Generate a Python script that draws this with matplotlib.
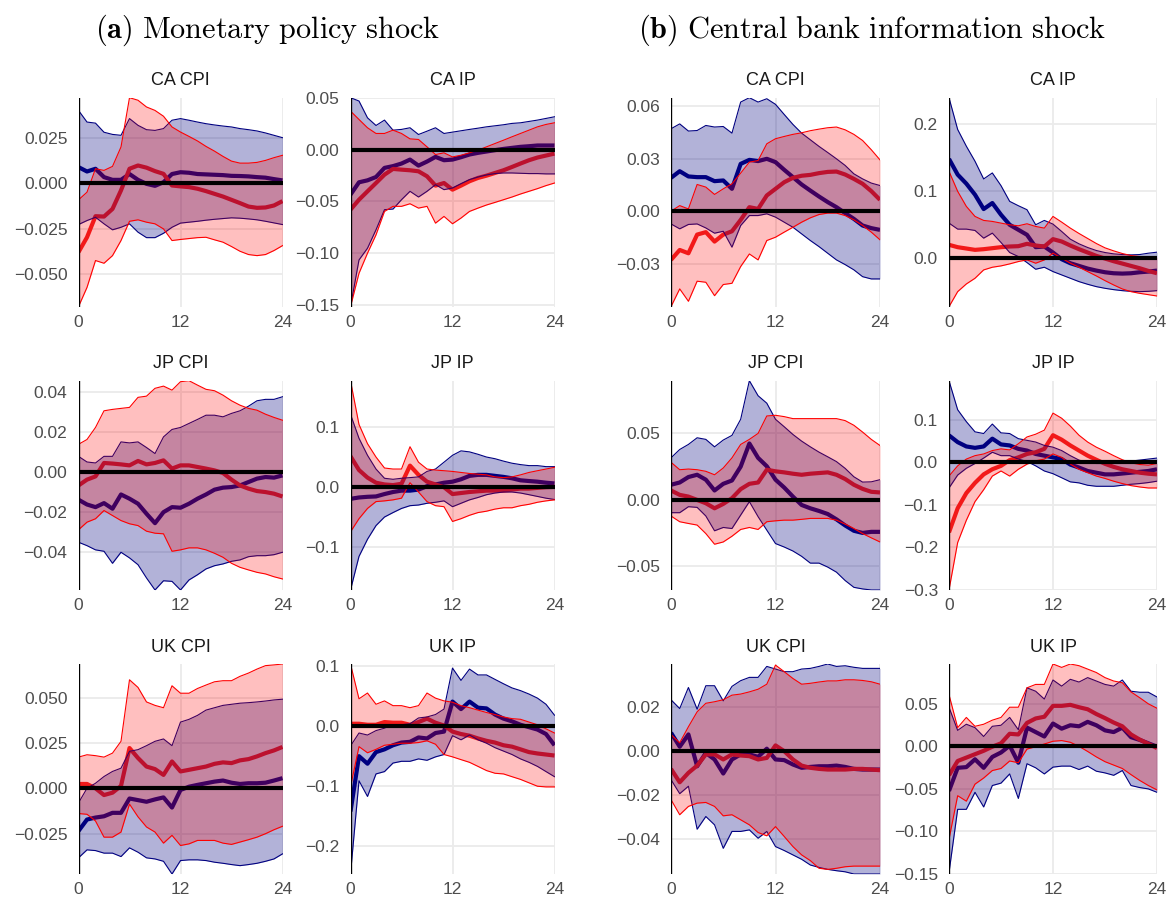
import matplotlib
matplotlib.use("Agg")
import matplotlib.pyplot as plt
from matplotlib.ticker import FuncFormatter
import numpy as np

plt.rcParams["font.family"] = ["Liberation Sans", "DejaVu Sans"]
plt.rcParams["mathtext.fontset"] = "cm"

horizon = np.arange(25)

# ---- (a) monetary policy shock ----
mp_ca_cpi_blue_mid = [0.0088, 0.0064, 0.0079, 0.0033, 0.0018, 0.0018, 0.0050, 0.0018, -0.0004, -0.0015, 0.0005, 0.0050, 0.0060, 0.0057, 0.0050, 0.0048, 0.0046, 0.0044, 0.0040, 0.0039, 0.0037, 0.0033, 0.0030, 0.0022, 0.0015]
mp_ca_cpi_blue_hi = [0.0400, 0.0336, 0.0330, 0.0280, 0.0268, 0.0263, 0.0355, 0.0318, 0.0294, 0.0290, 0.0300, 0.0346, 0.0355, 0.0346, 0.0336, 0.0327, 0.0320, 0.0314, 0.0309, 0.0300, 0.0294, 0.0287, 0.0276, 0.0263, 0.0250]
mp_ca_cpi_blue_lo = [-0.0228, -0.0206, -0.0188, -0.0224, -0.0257, -0.0243, -0.0224, -0.0270, -0.0300, -0.0300, -0.0276, -0.0243, -0.0220, -0.0215, -0.0210, -0.0204, -0.0199, -0.0195, -0.0191, -0.0193, -0.0197, -0.0202, -0.0210, -0.0219, -0.0228]
mp_ca_cpi_red_mid = [-0.0380, -0.0298, -0.0182, -0.0184, -0.0142, -0.0040, 0.0079, 0.0097, 0.0085, 0.0066, 0.0051, -0.0013, -0.0018, -0.0022, -0.0031, -0.0044, -0.0059, -0.0074, -0.0092, -0.0110, -0.0129, -0.0136, -0.0134, -0.0123, -0.0099]
mp_ca_cpi_red_hi = [-0.0092, -0.0050, 0.0079, 0.0070, 0.0092, 0.0199, 0.0470, 0.0456, 0.0419, 0.0400, 0.0368, 0.0309, 0.0281, 0.0257, 0.0232, 0.0202, 0.0176, 0.0147, 0.0121, 0.0110, 0.0110, 0.0114, 0.0125, 0.0140, 0.0153]
mp_ca_cpi_red_lo = [-0.0680, -0.0574, -0.0426, -0.0441, -0.0399, -0.0316, -0.0210, -0.0202, -0.0215, -0.0224, -0.0252, -0.0316, -0.0310, -0.0305, -0.0300, -0.0298, -0.0312, -0.0325, -0.0349, -0.0375, -0.0393, -0.0399, -0.0393, -0.0371, -0.0344]

mp_ca_ip_blue_mid = [-0.0435, -0.0316, -0.0297, -0.0265, -0.0177, -0.0160, -0.0135, -0.0097, -0.0155, -0.0116, -0.0071, -0.0103, -0.0097, -0.0074, -0.0048, -0.0032, -0.0019, -0.0006, 0.0006, 0.0016, 0.0026, 0.0032, 0.0039, 0.0039, 0.0039]
mp_ca_ip_blue_hi = [0.0500, 0.0468, 0.0306, 0.0232, 0.0284, 0.0187, 0.0194, 0.0210, 0.0145, 0.0177, 0.0210, 0.0155, 0.0168, 0.0181, 0.0194, 0.0206, 0.0219, 0.0229, 0.0239, 0.0252, 0.0258, 0.0271, 0.0284, 0.0300, 0.0316]
mp_ca_ip_blue_lo = [-0.1516, -0.1065, -0.0952, -0.0774, -0.0580, -0.0574, -0.0484, -0.0403, -0.0458, -0.0403, -0.0339, -0.0387, -0.0371, -0.0329, -0.0290, -0.0265, -0.0245, -0.0232, -0.0226, -0.0226, -0.0229, -0.0232, -0.0232, -0.0235, -0.0235]
mp_ca_ip_red_mid = [-0.0580, -0.0484, -0.0403, -0.0323, -0.0242, -0.0187, -0.0194, -0.0200, -0.0210, -0.0258, -0.0348, -0.0323, -0.0387, -0.0348, -0.0306, -0.0274, -0.0252, -0.0226, -0.0200, -0.0168, -0.0135, -0.0103, -0.0077, -0.0058, -0.0039]
mp_ca_ip_red_hi = [0.0371, 0.0290, 0.0210, 0.0155, 0.0155, 0.0187, 0.0155, 0.0103, 0.0097, 0.0026, -0.0048, -0.0032, -0.0071, -0.0055, -0.0032, -0.0006, 0.0026, 0.0058, 0.0090, 0.0123, 0.0155, 0.0187, 0.0219, 0.0242, 0.0258]
mp_ca_ip_red_lo = [-0.1516, -0.1194, -0.1000, -0.0823, -0.0597, -0.0548, -0.0548, -0.0523, -0.0565, -0.0548, -0.0710, -0.0645, -0.0716, -0.0661, -0.0597, -0.0565, -0.0535, -0.0510, -0.0484, -0.0458, -0.0429, -0.0403, -0.0377, -0.0348, -0.0323]

mp_jp_cpi_blue_mid = [-0.0138, -0.0162, -0.0175, -0.0155, -0.0183, -0.0112, -0.0133, -0.0158, -0.0208, -0.0255, -0.0200, -0.0175, -0.0178, -0.0158, -0.0133, -0.0112, -0.0088, -0.0078, -0.0075, -0.0067, -0.0050, -0.0033, -0.0025, -0.0028, -0.0017]
mp_jp_cpi_blue_hi = [0.0078, 0.0050, 0.0045, 0.0078, 0.0078, 0.0150, 0.0145, 0.0150, 0.0122, 0.0092, 0.0175, 0.0212, 0.0222, 0.0242, 0.0262, 0.0283, 0.0283, 0.0275, 0.0292, 0.0305, 0.0328, 0.0355, 0.0362, 0.0362, 0.0375]
mp_jp_cpi_blue_lo = [-0.0350, -0.0367, -0.0388, -0.0395, -0.0455, -0.0400, -0.0428, -0.0462, -0.0528, -0.0588, -0.0542, -0.0545, -0.0588, -0.0538, -0.0512, -0.0483, -0.0467, -0.0458, -0.0445, -0.0438, -0.0422, -0.0417, -0.0417, -0.0412, -0.0400]
mp_jp_cpi_red_mid = [-0.0067, -0.0038, -0.0022, 0.0045, 0.0042, 0.0038, 0.0033, 0.0055, 0.0038, 0.0045, 0.0058, 0.0017, 0.0033, 0.0033, 0.0025, 0.0017, 0.0008, -0.0005, -0.0038, -0.0067, -0.0083, -0.0095, -0.0100, -0.0108, -0.0122]
mp_jp_cpi_red_hi = [0.0138, 0.0162, 0.0222, 0.0305, 0.0312, 0.0317, 0.0322, 0.0372, 0.0378, 0.0417, 0.0428, 0.0408, 0.0450, 0.0455, 0.0433, 0.0412, 0.0405, 0.0383, 0.0355, 0.0333, 0.0317, 0.0308, 0.0288, 0.0272, 0.0258]
mp_jp_cpi_red_lo = [-0.0288, -0.0250, -0.0233, -0.0192, -0.0217, -0.0242, -0.0258, -0.0267, -0.0295, -0.0305, -0.0308, -0.0395, -0.0388, -0.0378, -0.0378, -0.0388, -0.0405, -0.0425, -0.0455, -0.0475, -0.0488, -0.0500, -0.0508, -0.0522, -0.0533]

mp_jp_ip_blue_mid = [-0.0200, -0.0177, -0.0166, -0.0160, -0.0120, -0.0086, -0.0063, -0.0063, -0.0046, 0.0011, 0.0040, 0.0069, 0.0086, 0.0126, 0.0183, 0.0200, 0.0200, 0.0183, 0.0166, 0.0143, 0.0109, 0.0097, 0.0086, 0.0069, 0.0057]
mp_jp_ip_blue_hi = [0.1210, 0.0810, 0.0526, 0.0297, 0.0143, 0.0126, 0.0143, 0.0154, 0.0166, 0.0257, 0.0297, 0.0411, 0.0526, 0.0600, 0.0583, 0.0543, 0.0497, 0.0469, 0.0429, 0.0394, 0.0371, 0.0354, 0.0354, 0.0337, 0.0337]
mp_jp_ip_blue_lo = [-0.1720, -0.1160, -0.0874, -0.0646, -0.0503, -0.0429, -0.0360, -0.0314, -0.0303, -0.0274, -0.0257, -0.0234, -0.0331, -0.0274, -0.0217, -0.0177, -0.0131, -0.0103, -0.0086, -0.0086, -0.0103, -0.0131, -0.0160, -0.0189, -0.0211]
mp_jp_ip_red_mid = [0.0510, 0.0280, 0.0154, 0.0069, 0.0040, 0.0029, 0.0051, 0.0354, 0.0200, 0.0086, 0.0040, -0.0006, -0.0120, -0.0103, -0.0086, -0.0074, -0.0063, -0.0063, -0.0063, -0.0046, -0.0029, -0.0029, -0.0017, -0.0006, 0.0000]
mp_jp_ip_red_hi = [0.1770, 0.1040, 0.0720, 0.0497, 0.0314, 0.0297, 0.0297, 0.0669, 0.0411, 0.0297, 0.0280, 0.0269, 0.0257, 0.0240, 0.0223, 0.0211, 0.0200, 0.0166, 0.0154, 0.0166, 0.0200, 0.0240, 0.0269, 0.0297, 0.0326]
mp_jp_ip_red_lo = [-0.0750, -0.0531, -0.0360, -0.0246, -0.0234, -0.0217, -0.0189, 0.0069, -0.0086, -0.0246, -0.0314, -0.0331, -0.0577, -0.0531, -0.0474, -0.0429, -0.0406, -0.0371, -0.0349, -0.0349, -0.0314, -0.0291, -0.0257, -0.0234, -0.0217]

mp_uk_cpi_blue_mid = [-0.0235, -0.0172, -0.0161, -0.0154, -0.0135, -0.0135, -0.0056, -0.0065, -0.0074, -0.0061, -0.0050, -0.0106, -0.0009, 0.0009, 0.0019, 0.0028, 0.0037, 0.0043, 0.0031, 0.0024, 0.0028, 0.0028, 0.0031, 0.0043, 0.0056]
mp_uk_cpi_blue_hi = [-0.0080, 0.0000, 0.0028, 0.0065, 0.0093, 0.0111, 0.0204, 0.0213, 0.0235, 0.0259, 0.0272, 0.0235, 0.0365, 0.0380, 0.0402, 0.0431, 0.0444, 0.0457, 0.0463, 0.0469, 0.0472, 0.0476, 0.0481, 0.0487, 0.0491]
mp_uk_cpi_blue_lo = [-0.0383, -0.0339, -0.0343, -0.0357, -0.0357, -0.0376, -0.0328, -0.0352, -0.0383, -0.0389, -0.0402, -0.0472, -0.0398, -0.0394, -0.0394, -0.0398, -0.0407, -0.0413, -0.0420, -0.0426, -0.0420, -0.0413, -0.0402, -0.0389, -0.0361]
mp_uk_cpi_red_mid = [0.0024, 0.0024, 0.0000, -0.0037, -0.0024, 0.0013, 0.0222, 0.0167, 0.0120, 0.0106, 0.0074, 0.0148, 0.0093, 0.0102, 0.0111, 0.0120, 0.0135, 0.0143, 0.0139, 0.0154, 0.0161, 0.0176, 0.0194, 0.0209, 0.0228]
mp_uk_cpi_red_hi = [0.0172, 0.0185, 0.0180, 0.0172, 0.0194, 0.0259, 0.0598, 0.0556, 0.0476, 0.0457, 0.0444, 0.0565, 0.0524, 0.0524, 0.0550, 0.0569, 0.0587, 0.0593, 0.0593, 0.0617, 0.0635, 0.0657, 0.0676, 0.0680, 0.0685]
mp_uk_cpi_red_lo = [-0.0139, -0.0143, -0.0180, -0.0269, -0.0269, -0.0241, -0.0087, -0.0157, -0.0213, -0.0241, -0.0302, -0.0259, -0.0315, -0.0306, -0.0287, -0.0287, -0.0287, -0.0302, -0.0309, -0.0296, -0.0283, -0.0269, -0.0250, -0.0228, -0.0209]

mp_uk_ip_blue_mid = [-0.1420, -0.0500, -0.0625, -0.0432, -0.0386, -0.0318, -0.0273, -0.0261, -0.0188, -0.0205, -0.0114, -0.0091, 0.0409, 0.0284, 0.0409, 0.0307, 0.0295, 0.0193, 0.0125, 0.0080, 0.0023, -0.0017, -0.0057, -0.0131, -0.0318]
mp_uk_ip_blue_hi = [-0.0330, -0.0114, -0.0148, -0.0074, -0.0034, 0.0023, 0.0023, 0.0040, 0.0136, 0.0153, 0.0193, 0.0284, 0.0966, 0.0761, 0.0949, 0.0852, 0.0852, 0.0778, 0.0705, 0.0636, 0.0591, 0.0534, 0.0466, 0.0364, 0.0182]
mp_uk_ip_blue_lo = [-0.2460, -0.0909, -0.1170, -0.0795, -0.0756, -0.0614, -0.0585, -0.0585, -0.0545, -0.0568, -0.0511, -0.0472, -0.0159, -0.0227, -0.0148, -0.0227, -0.0284, -0.0358, -0.0415, -0.0472, -0.0545, -0.0602, -0.0670, -0.0756, -0.0841]
mp_uk_ip_red_mid = [0.0040, 0.0040, 0.0023, 0.0023, 0.0068, 0.0057, 0.0057, 0.0023, 0.0068, 0.0125, 0.0057, 0.0011, -0.0091, -0.0131, -0.0159, -0.0205, -0.0244, -0.0273, -0.0318, -0.0341, -0.0386, -0.0432, -0.0455, -0.0472, -0.0489]
mp_uk_ip_red_hi = [0.1034, 0.0455, 0.0551, 0.0364, 0.0420, 0.0341, 0.0341, 0.0307, 0.0341, 0.0551, 0.0466, 0.0420, 0.0398, 0.0341, 0.0307, 0.0267, 0.0227, 0.0193, 0.0153, 0.0125, 0.0114, 0.0068, 0.0023, -0.0045, -0.0114]
mp_uk_ip_red_lo = [-0.1011, -0.0341, -0.0443, -0.0386, -0.0318, -0.0301, -0.0284, -0.0284, -0.0273, -0.0244, -0.0301, -0.0472, -0.0511, -0.0557, -0.0602, -0.0670, -0.0739, -0.0784, -0.0795, -0.0841, -0.0886, -0.0943, -0.1000, -0.1011, -0.1011]

# ---- (b) central bank information shock ----
cbi_ca_cpi_blue_mid = [0.0191, 0.0229, 0.0199, 0.0195, 0.0195, 0.0172, 0.0176, 0.0128, 0.0271, 0.0294, 0.0287, 0.0300, 0.0281, 0.0237, 0.0195, 0.0153, 0.0118, 0.0084, 0.0052, 0.0023, -0.0011, -0.0044, -0.0082, -0.0097, -0.0107]
cbi_ca_cpi_blue_hi = [0.0472, 0.0500, 0.0459, 0.0462, 0.0491, 0.0482, 0.0485, 0.0447, 0.0625, 0.0650, 0.0625, 0.0644, 0.0612, 0.0554, 0.0497, 0.0447, 0.0409, 0.0371, 0.0336, 0.0300, 0.0262, 0.0214, 0.0185, 0.0161, 0.0147]
cbi_ca_cpi_blue_lo = [-0.0073, -0.0101, -0.0076, -0.0073, -0.0096, -0.0126, -0.0115, -0.0206, -0.0082, -0.0025, -0.0025, -0.0015, -0.0034, -0.0063, -0.0092, -0.0130, -0.0168, -0.0203, -0.0241, -0.0279, -0.0306, -0.0336, -0.0375, -0.0388, -0.0388]
cbi_ca_cpi_red_mid = [-0.0279, -0.0222, -0.0241, -0.0134, -0.0120, -0.0174, -0.0134, -0.0115, -0.0050, 0.0023, 0.0013, 0.0090, 0.0128, 0.0166, 0.0191, 0.0203, 0.0208, 0.0218, 0.0225, 0.0227, 0.0210, 0.0185, 0.0157, 0.0115, 0.0065]
cbi_ca_cpi_red_hi = [0.0000, 0.0032, 0.0013, 0.0153, 0.0138, 0.0096, 0.0128, 0.0157, 0.0218, 0.0281, 0.0290, 0.0386, 0.0415, 0.0428, 0.0440, 0.0449, 0.0461, 0.0470, 0.0478, 0.0482, 0.0466, 0.0440, 0.0405, 0.0352, 0.0294]
cbi_ca_cpi_red_lo = [-0.0547, -0.0445, -0.0516, -0.0401, -0.0407, -0.0484, -0.0420, -0.0413, -0.0317, -0.0245, -0.0279, -0.0168, -0.0149, -0.0120, -0.0092, -0.0063, -0.0038, -0.0019, -0.0011, -0.0011, -0.0025, -0.0050, -0.0082, -0.0120, -0.0164]

cbi_ca_ip_blue_mid = [0.1485, 0.1250, 0.1115, 0.0950, 0.0735, 0.0825, 0.0650, 0.0500, 0.0425, 0.0350, 0.0165, 0.0175, 0.0085, -0.0015, -0.0075, -0.0115, -0.0155, -0.0185, -0.0210, -0.0225, -0.0230, -0.0225, -0.0210, -0.0200, -0.0185]
cbi_ca_ip_blue_hi = [0.2400, 0.1925, 0.1675, 0.1450, 0.1185, 0.1275, 0.1085, 0.0850, 0.0785, 0.0725, 0.0500, 0.0565, 0.0510, 0.0400, 0.0285, 0.0215, 0.0160, 0.0115, 0.0085, 0.0065, 0.0055, 0.0050, 0.0055, 0.0075, 0.0090]
cbi_ca_ip_blue_lo = [0.0525, 0.0435, 0.0435, 0.0415, 0.0300, 0.0375, 0.0235, 0.0085, 0.0025, -0.0065, -0.0165, -0.0135, -0.0200, -0.0250, -0.0300, -0.0350, -0.0390, -0.0425, -0.0450, -0.0470, -0.0485, -0.0495, -0.0500, -0.0495, -0.0485]
cbi_ca_ip_red_mid = [0.0200, 0.0165, 0.0145, 0.0125, 0.0135, 0.0150, 0.0165, 0.0175, 0.0180, 0.0215, 0.0190, 0.0175, 0.0285, 0.0250, 0.0190, 0.0135, 0.0085, 0.0035, -0.0005, -0.0045, -0.0080, -0.0115, -0.0150, -0.0190, -0.0225]
cbi_ca_ip_red_hi = [0.1300, 0.1000, 0.0775, 0.0625, 0.0565, 0.0550, 0.0525, 0.0500, 0.0485, 0.0515, 0.0475, 0.0450, 0.0625, 0.0540, 0.0450, 0.0370, 0.0295, 0.0220, 0.0155, 0.0110, 0.0070, 0.0040, 0.0025, 0.0020, 0.0015]
cbi_ca_ip_red_lo = [-0.0725, -0.0500, -0.0385, -0.0300, -0.0175, -0.0135, -0.0115, -0.0085, -0.0050, -0.0025, -0.0075, -0.0025, 0.0075, 0.0000, -0.0075, -0.0135, -0.0200, -0.0265, -0.0335, -0.0400, -0.0460, -0.0500, -0.0525, -0.0545, -0.0565]

cbi_jp_cpi_blue_mid = [0.0114, 0.0131, 0.0172, 0.0189, 0.0152, 0.0071, 0.0121, 0.0146, 0.0250, 0.0424, 0.0316, 0.0253, 0.0152, 0.0093, 0.0025, -0.0038, -0.0063, -0.0083, -0.0106, -0.0146, -0.0192, -0.0232, -0.0248, -0.0240, -0.0240]
cbi_jp_cpi_blue_hi = [0.0316, 0.0379, 0.0417, 0.0467, 0.0455, 0.0399, 0.0450, 0.0485, 0.0606, 0.0896, 0.0783, 0.0727, 0.0606, 0.0550, 0.0492, 0.0442, 0.0399, 0.0359, 0.0324, 0.0288, 0.0237, 0.0174, 0.0134, 0.0136, 0.0152]
cbi_jp_cpi_blue_lo = [-0.0096, -0.0096, -0.0051, -0.0056, -0.0121, -0.0232, -0.0207, -0.0215, -0.0114, -0.0013, -0.0126, -0.0227, -0.0328, -0.0354, -0.0384, -0.0424, -0.0475, -0.0475, -0.0505, -0.0543, -0.0606, -0.0657, -0.0669, -0.0677, -0.0677]
cbi_jp_cpi_red_mid = [0.0071, 0.0038, 0.0025, 0.0000, -0.0025, -0.0063, -0.0030, 0.0013, 0.0081, 0.0121, 0.0131, 0.0227, 0.0215, 0.0207, 0.0197, 0.0189, 0.0197, 0.0202, 0.0207, 0.0189, 0.0157, 0.0114, 0.0083, 0.0061, 0.0056]
cbi_jp_cpi_red_hi = [0.0283, 0.0227, 0.0232, 0.0227, 0.0215, 0.0189, 0.0240, 0.0316, 0.0417, 0.0455, 0.0500, 0.0631, 0.0636, 0.0626, 0.0611, 0.0611, 0.0611, 0.0611, 0.0611, 0.0611, 0.0596, 0.0561, 0.0510, 0.0455, 0.0409]
cbi_jp_cpi_red_lo = [-0.0121, -0.0164, -0.0177, -0.0189, -0.0253, -0.0333, -0.0316, -0.0273, -0.0222, -0.0207, -0.0222, -0.0164, -0.0157, -0.0152, -0.0152, -0.0146, -0.0139, -0.0139, -0.0139, -0.0152, -0.0182, -0.0215, -0.0253, -0.0285, -0.0316]

cbi_jp_ip_blue_mid = [0.0640, 0.0480, 0.0378, 0.0345, 0.0378, 0.0562, 0.0426, 0.0402, 0.0321, 0.0281, 0.0201, 0.0161, 0.0120, 0.0080, -0.0050, -0.0120, -0.0201, -0.0241, -0.0281, -0.0281, -0.0261, -0.0241, -0.0221, -0.0201, -0.0161]
cbi_jp_ip_blue_hi = [0.1930, 0.1245, 0.0964, 0.0723, 0.0683, 0.0907, 0.0699, 0.0683, 0.0562, 0.0522, 0.0482, 0.0402, 0.0361, 0.0281, 0.0161, 0.0056, 0.0000, -0.0024, -0.0024, -0.0016, 0.0016, 0.0032, 0.0056, 0.0080, 0.0104]
cbi_jp_ip_blue_lo = [-0.0602, -0.0297, -0.0137, -0.0024, 0.0104, 0.0241, 0.0161, 0.0161, 0.0080, 0.0024, -0.0080, -0.0201, -0.0265, -0.0361, -0.0458, -0.0482, -0.0538, -0.0562, -0.0562, -0.0562, -0.0538, -0.0514, -0.0498, -0.0474, -0.0442]
cbi_jp_ip_red_mid = [-0.1650, -0.1080, -0.0723, -0.0482, -0.0281, -0.0160, -0.0080, 0.0056, 0.0120, 0.0201, 0.0241, 0.0321, 0.0643, 0.0538, 0.0402, 0.0281, 0.0161, 0.0064, -0.0032, -0.0104, -0.0161, -0.0201, -0.0241, -0.0265, -0.0281]
cbi_jp_ip_red_hi = [-0.0321, -0.0080, 0.0080, 0.0161, 0.0201, 0.0281, 0.0321, 0.0297, 0.0442, 0.0602, 0.0667, 0.0763, 0.1165, 0.1044, 0.0859, 0.0643, 0.0482, 0.0361, 0.0265, 0.0161, 0.0064, -0.0008, -0.0048, -0.0064, -0.0024]
cbi_jp_ip_red_lo = [-0.3010, -0.1890, -0.1365, -0.0924, -0.0643, -0.0321, -0.0201, -0.0321, -0.0161, -0.0040, 0.0040, 0.0080, 0.0201, 0.0120, -0.0040, -0.0161, -0.0241, -0.0321, -0.0377, -0.0442, -0.0498, -0.0546, -0.0578, -0.0602, -0.0602]

cbi_uk_cpi_blue_mid = [0.0084, 0.0020, 0.0076, -0.0069, -0.0008, -0.0038, -0.0102, -0.0038, -0.0015, -0.0015, -0.0026, 0.0011, -0.0038, -0.0041, -0.0061, -0.0076, -0.0072, -0.0069, -0.0069, -0.0066, -0.0072, -0.0081, -0.0084, -0.0084, -0.0084]
cbi_uk_cpi_blue_hi = [0.0234, 0.0194, 0.0290, 0.0191, 0.0298, 0.0298, 0.0229, 0.0295, 0.0321, 0.0336, 0.0336, 0.0386, 0.0374, 0.0362, 0.0362, 0.0374, 0.0377, 0.0386, 0.0397, 0.0386, 0.0389, 0.0382, 0.0377, 0.0377, 0.0377]
cbi_uk_cpi_blue_lo = [-0.0130, -0.0194, -0.0160, -0.0356, -0.0298, -0.0336, -0.0443, -0.0366, -0.0366, -0.0359, -0.0397, -0.0366, -0.0435, -0.0453, -0.0473, -0.0493, -0.0519, -0.0530, -0.0539, -0.0545, -0.0550, -0.0560, -0.0560, -0.0560, -0.0560]
cbi_uk_cpi_red_mid = [-0.0081, -0.0142, -0.0099, -0.0066, -0.0015, -0.0015, -0.0038, -0.0015, -0.0020, -0.0023, -0.0038, -0.0031, 0.0026, 0.0000, -0.0038, -0.0066, -0.0076, -0.0081, -0.0084, -0.0084, -0.0084, -0.0081, -0.0081, -0.0084, -0.0087]
cbi_uk_cpi_red_hi = [0.0076, 0.0038, 0.0111, 0.0179, 0.0218, 0.0225, 0.0234, 0.0255, 0.0260, 0.0270, 0.0282, 0.0305, 0.0392, 0.0362, 0.0331, 0.0305, 0.0309, 0.0315, 0.0320, 0.0320, 0.0325, 0.0325, 0.0322, 0.0316, 0.0305]
cbi_uk_cpi_red_lo = [-0.0221, -0.0290, -0.0252, -0.0237, -0.0234, -0.0252, -0.0295, -0.0290, -0.0313, -0.0336, -0.0371, -0.0386, -0.0344, -0.0389, -0.0435, -0.0473, -0.0499, -0.0534, -0.0539, -0.0534, -0.0527, -0.0524, -0.0524, -0.0524, -0.0524]

cbi_uk_ip_blue_mid = [-0.0524, -0.0252, -0.0244, -0.0152, -0.0252, -0.0124, -0.0072, 0.0008, -0.0192, 0.0220, 0.0168, 0.0116, 0.0268, 0.0208, 0.0248, 0.0236, 0.0288, 0.0248, 0.0188, 0.0168, 0.0220, 0.0108, 0.0076, 0.0036, -0.0004]
cbi_uk_ip_blue_hi = [0.0460, 0.0188, 0.0260, 0.0220, 0.0116, 0.0236, 0.0248, 0.0340, 0.0196, 0.0688, 0.0648, 0.0556, 0.0780, 0.0708, 0.0788, 0.0756, 0.0808, 0.0768, 0.0728, 0.0708, 0.0780, 0.0648, 0.0636, 0.0636, 0.0580]
cbi_uk_ip_blue_lo = [-0.1484, -0.0740, -0.0740, -0.0540, -0.0712, -0.0460, -0.0432, -0.0324, -0.0612, -0.0204, -0.0252, -0.0324, -0.0244, -0.0232, -0.0232, -0.0272, -0.0232, -0.0292, -0.0312, -0.0340, -0.0284, -0.0460, -0.0484, -0.0500, -0.0540]
cbi_uk_ip_red_mid = [-0.0340, -0.0172, -0.0132, -0.0092, -0.0052, -0.0004, 0.0036, 0.0148, 0.0140, 0.0276, 0.0328, 0.0348, 0.0476, 0.0476, 0.0488, 0.0460, 0.0436, 0.0380, 0.0332, 0.0280, 0.0236, 0.0140, 0.0080, 0.0030, -0.0020]
cbi_uk_ip_red_hi = [0.0608, 0.0220, 0.0340, 0.0236, 0.0260, 0.0308, 0.0340, 0.0460, 0.0460, 0.0688, 0.0728, 0.0728, 0.0968, 0.0928, 0.0968, 0.0948, 0.0908, 0.0868, 0.0808, 0.0768, 0.0748, 0.0640, 0.0572, 0.0500, 0.0448]
cbi_uk_ip_red_lo = [-0.1092, -0.0580, -0.0644, -0.0444, -0.0372, -0.0284, -0.0260, -0.0172, -0.0192, -0.0032, -0.0004, 0.0028, 0.0060, 0.0068, 0.0048, 0.0000, -0.0060, -0.0124, -0.0180, -0.0220, -0.0260, -0.0332, -0.0400, -0.0460, -0.0512]

# y tick values per panel
yt_mp_ca_cpi = [-0.050, -0.025, 0.0, 0.025]
yt_mp_ca_ip = [-0.15, -0.10, -0.05, 0.0, 0.05]
yt_cbi_ca_cpi = [-0.03, 0.0, 0.03, 0.06]
yt_cbi_ca_ip = [0.0, 0.1, 0.2]
yt_mp_jp_cpi = [-0.04, -0.02, 0.0, 0.02, 0.04]
yt_mp_jp_ip = [-0.1, 0.0, 0.1]
yt_cbi_jp_cpi = [-0.05, 0.0, 0.05]
yt_cbi_jp_ip = [-0.3, -0.2, -0.1, 0.0, 0.1]
yt_mp_uk_cpi = [-0.025, 0.0, 0.025, 0.050]
yt_mp_uk_ip = [-0.2, -0.1, 0.0, 0.1]
yt_cbi_uk_cpi = [-0.04, -0.02, 0.0, 0.02]
yt_cbi_uk_ip = [-0.15, -0.10, -0.05, 0.0, 0.05]

BLUE = "#000080"
RED = "#ee2222"
W, H = 1172, 899

fig = plt.figure(figsize=(W / 100, H / 100), dpi=100)


def draw_panel(ax, title, blue, red, yticks, decimals):
    b_mid, b_lo, b_hi = blue
    r_mid, r_lo, r_hi = red
    # medians go under the ribbons, like geom_line before geom_ribbon
    ax.plot(horizon, b_mid, color=BLUE, lw=3, zorder=2, solid_capstyle="butt")
    ax.plot(horizon, r_mid, color=RED, lw=3, zorder=2, solid_capstyle="butt")
    ax.fill_between(horizon, b_lo, b_hi, color=BLUE, alpha=0.3, lw=0, zorder=3)
    ax.plot(horizon, b_lo, color=BLUE, lw=0.8, zorder=3)
    ax.plot(horizon, b_hi, color=BLUE, lw=0.8, zorder=3)
    ax.fill_between(horizon, r_lo, r_hi, color="red", alpha=0.25, lw=0, zorder=4)
    ax.plot(horizon, r_lo, color="red", lw=0.8, zorder=4)
    ax.plot(horizon, r_hi, color="red", lw=0.8, zorder=4)
    ax.axhline(0, color="black", lw=3, zorder=6)
    ax.axvline(0, color="black", lw=1.7, zorder=6)

    lo = min(min(b_lo), min(r_lo))
    hi = max(max(b_hi), max(r_hi))
    ax.set_ylim(lo, hi)
    ax.set_xlim(0, 24)
    ax.set_xticks([0, 12, 24])
    ax.set_yticks(yticks)
    ax.yaxis.set_major_formatter(
        FuncFormatter(lambda v, p: f"{v:.{decimals}f}".replace("-", "\u2212")))
    ax.tick_params(length=0, labelsize=12.5, labelcolor="#4d4d4d")
    ax.tick_params(axis="y", pad=8)
    ax.tick_params(axis="x", pad=6)
    ax.grid(color="#ebebeb", lw=1.3)
    ax.set_axisbelow(True)
    for s in ax.spines.values():
        s.set_visible(False)
    ax.set_title(title, fontsize=13, color="#1a1a1a", pad=9)


cols_px = [(78.5, 282.5), (350.5, 554.5), (671, 880), (949, 1157)]
rows_px = [(97.7, 306.7), (380.7, 590), (664, 874)]

panels = [
    [("CA CPI", (mp_ca_cpi_blue_mid, mp_ca_cpi_blue_lo, mp_ca_cpi_blue_hi), (mp_ca_cpi_red_mid, mp_ca_cpi_red_lo, mp_ca_cpi_red_hi), yt_mp_ca_cpi, 3),
     ("CA IP", (mp_ca_ip_blue_mid, mp_ca_ip_blue_lo, mp_ca_ip_blue_hi), (mp_ca_ip_red_mid, mp_ca_ip_red_lo, mp_ca_ip_red_hi), yt_mp_ca_ip, 2),
     ("CA CPI", (cbi_ca_cpi_blue_mid, cbi_ca_cpi_blue_lo, cbi_ca_cpi_blue_hi), (cbi_ca_cpi_red_mid, cbi_ca_cpi_red_lo, cbi_ca_cpi_red_hi), yt_cbi_ca_cpi, 2),
     ("CA IP", (cbi_ca_ip_blue_mid, cbi_ca_ip_blue_lo, cbi_ca_ip_blue_hi), (cbi_ca_ip_red_mid, cbi_ca_ip_red_lo, cbi_ca_ip_red_hi), yt_cbi_ca_ip, 1)],
    [("JP CPI", (mp_jp_cpi_blue_mid, mp_jp_cpi_blue_lo, mp_jp_cpi_blue_hi), (mp_jp_cpi_red_mid, mp_jp_cpi_red_lo, mp_jp_cpi_red_hi), yt_mp_jp_cpi, 2),
     ("JP IP", (mp_jp_ip_blue_mid, mp_jp_ip_blue_lo, mp_jp_ip_blue_hi), (mp_jp_ip_red_mid, mp_jp_ip_red_lo, mp_jp_ip_red_hi), yt_mp_jp_ip, 1),
     ("JP CPI", (cbi_jp_cpi_blue_mid, cbi_jp_cpi_blue_lo, cbi_jp_cpi_blue_hi), (cbi_jp_cpi_red_mid, cbi_jp_cpi_red_lo, cbi_jp_cpi_red_hi), yt_cbi_jp_cpi, 2),
     ("JP IP", (cbi_jp_ip_blue_mid, cbi_jp_ip_blue_lo, cbi_jp_ip_blue_hi), (cbi_jp_ip_red_mid, cbi_jp_ip_red_lo, cbi_jp_ip_red_hi), yt_cbi_jp_ip, 1)],
    [("UK CPI", (mp_uk_cpi_blue_mid, mp_uk_cpi_blue_lo, mp_uk_cpi_blue_hi), (mp_uk_cpi_red_mid, mp_uk_cpi_red_lo, mp_uk_cpi_red_hi), yt_mp_uk_cpi, 3),
     ("UK IP", (mp_uk_ip_blue_mid, mp_uk_ip_blue_lo, mp_uk_ip_blue_hi), (mp_uk_ip_red_mid, mp_uk_ip_red_lo, mp_uk_ip_red_hi), yt_mp_uk_ip, 1),
     ("UK CPI", (cbi_uk_cpi_blue_mid, cbi_uk_cpi_blue_lo, cbi_uk_cpi_blue_hi), (cbi_uk_cpi_red_mid, cbi_uk_cpi_red_lo, cbi_uk_cpi_red_hi), yt_cbi_uk_cpi, 2),
     ("UK IP", (cbi_uk_ip_blue_mid, cbi_uk_ip_blue_lo, cbi_uk_ip_blue_hi), (cbi_uk_ip_red_mid, cbi_uk_ip_red_lo, cbi_uk_ip_red_hi), yt_cbi_uk_ip, 2)],
]

for r, (top, bot) in enumerate(rows_px):
    for c, (left, right) in enumerate(cols_px):
        ax = fig.add_axes([left / W, 1 - bot / H, (right - left) / W, (bot - top) / H])
        draw_panel(ax, *panels[r][c])

fig.text(268 / W, 1 - 30 / H, r"$\mathbf{(a)}\ \mathrm{Monetary\ policy\ shock}$",
         ha="center", va="center", fontsize=21.8)
fig.text(872 / W, 1 - 30 / H, r"$\mathbf{(b)}\ \mathrm{Central\ bank\ information\ shock}$",
         ha="center", va="center", fontsize=21.8)

fig.savefig("out.png", dpi=100)
